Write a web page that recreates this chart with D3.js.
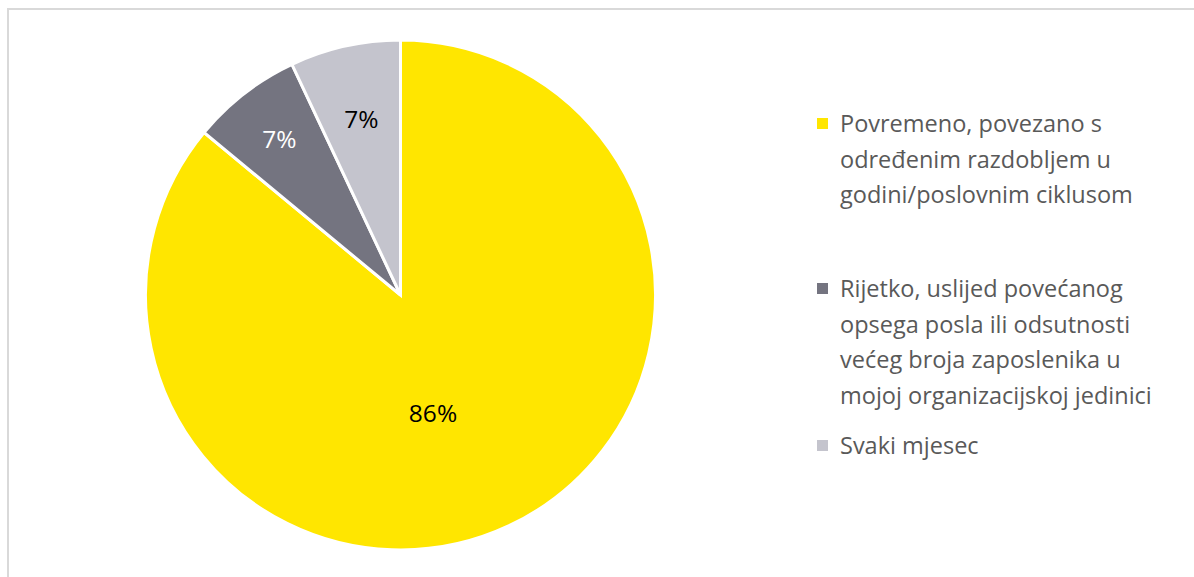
<!DOCTYPE html>
<html>
<head>
<meta charset="utf-8">
<script src="https://cdn.jsdelivr.net/npm/d3@7"></script>
<style>
  html, body { margin: 0; padding: 0; background: #fff; }
  svg { display: block; }
</style>
</head>
<body>
<svg id="chart" width="1194" height="577"></svg>
<script>
// Answer categories, their shares (%) and slice colours
const categories = [
  "Povremeno, povezano s određenim razdobljem u godini/poslovnim ciklusom",
  "Rijetko, uslijed povećanog opsega posla ili odsutnosti većeg broja zaposlenika u mojoj organizacijskoj jedinici",
  "Svaki mjesec"
];
const shares = [86, 7, 7];
const colors = ["#FFE600", "#747480", "#C4C4CD"];
const labelColors = ["#000000", "#FFFFFF", "#000000"];

// Legend text, already wrapped into lines
const legendLines = [
  ["Povremeno, povezano s", "određenim razdobljem u", "godini/poslovnim ciklusom"],
  ["Rijetko, uslijed povećanog", "opsega posla ili odsutnosti", "većeg broja zaposlenika u", "mojoj organizacijskoj jedinici"],
  ["Svaki mjesec"]
];

const FONT = "'Open Sans', 'Noto Sans', sans-serif";
const svg = d3.select("#chart");

// chart frame (open to the right and bottom)
svg.append("rect")
  .attr("x", 8).attr("y", 9)
  .attr("width", 1300).attr("height", 700)
  .attr("fill", "none")
  .attr("stroke", "#D9D9D9")
  .attr("stroke-width", 2);

// pie layout
const cx = 400.5, cy = 295, radius = 255;
const data = shares.map((v, i) => ({ name: categories[i], value: v, i }));
const pie = d3.pie().value(d => d.value).sort(null);
const arcs = pie(data);
const arc = d3.arc().innerRadius(0).outerRadius(radius);

const g = svg.append("g").attr("transform", `translate(${cx},${cy})`);

g.selectAll("path.slice")
  .data(arcs)
  .join("path")
  .attr("class", "slice")
  .attr("d", arc)
  .attr("fill", d => colors[d.data.i])
  .attr("stroke", "#FFFFFF")
  .attr("stroke-width", 3)
  .attr("stroke-linejoin", "miter");

// data labels: small slices sit on their mid-angle, the large one is best-fit placed lower
const labelPlacement = [
  { angleShift: 0.171, r: 0.48 },
  { angleShift: 0, r: 0.775 },
  { angleShift: 0, r: 0.705 }
];
const labelPos = d => {
  const p = labelPlacement[d.data.i];
  const a = (d.startAngle + d.endAngle) / 2 + p.angleShift;
  return [Math.sin(a) * radius * p.r, -Math.cos(a) * radius * p.r];
};
g.selectAll("text.lbl")
  .data(arcs)
  .join("text")
  .attr("class", "lbl")
  .attr("x", d => labelPos(d)[0])
  .attr("y", d => labelPos(d)[1])
  .attr("dy", "0.36em")
  .attr("text-anchor", "middle")
  .attr("font-family", FONT)
  .attr("font-size", 24.5)
  .attr("fill", d => labelColors[d.data.i])
  .text(d => d.data.value + "%");

// legend
const legendX = 817, textX = 840, lineH = 35.5, sq = 11;
const entryBaselines = [132, 297, 454];
const legend = svg.append("g");
legendLines.forEach((lines, i) => {
  const by = entryBaselines[i];
  legend.append("rect")
    .attr("x", legendX).attr("y", by - 8.5 - sq / 2)
    .attr("width", sq).attr("height", sq)
    .attr("fill", colors[i]);
  const t = legend.append("text")
    .attr("font-family", FONT)
    .attr("font-size", 23.5)
    .attr("fill", "#595959");
  lines.forEach((ln, j) => {
    t.append("tspan").attr("x", textX).attr("y", by + j * lineH).text(ln);
  });
});
</script>
</body>
</html>
